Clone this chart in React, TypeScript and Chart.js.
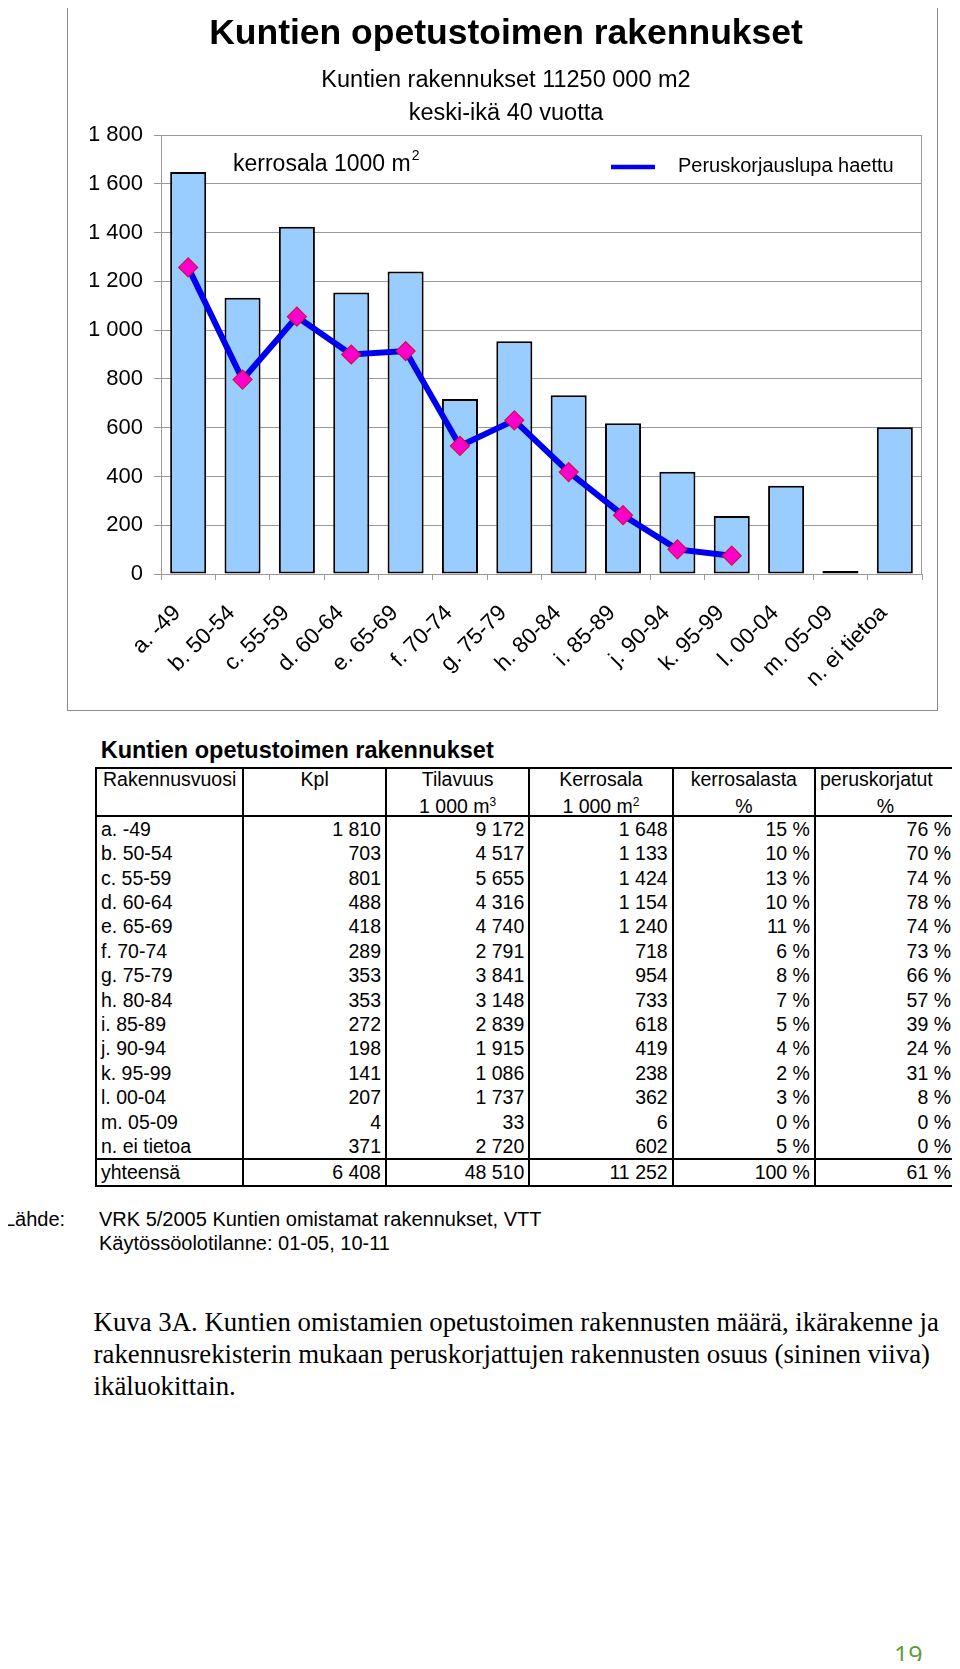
import React, { useEffect, useRef } from 'react';
import { Chart, registerables } from 'chart.js';

Chart.register(...registerables);

// ---------- chart data ----------
const categories = [
  'a. -49', 'b. 50-54', 'c. 55-59', 'd. 60-64', 'e. 65-69', 'f. 70-74', 'g. 75-79',
  'h. 80-84', 'i. 85-89', 'j. 90-94', 'k. 95-99', 'l. 00-04', 'm. 05-09', 'n. ei tietoa',
];
const kerrosala = [1648, 1133, 1424, 1154, 1240, 718, 954, 733, 618, 419, 238, 362, 6, 602];
const peruskorjauslupaHaettu = [1257, 797, 1055, 900, 914, 525, 630, 418, 241, 101, 75, null, null, null];
const yMin = 0;
const yMax = 1800;
const yStep = 200;

const chartTitle = 'Kuntien opetustoimen rakennukset';
const chartSubtitle = ['Kuntien rakennukset 11250 000 m2', 'keski-ikä 40 vuotta'];
const yUnitLabel = 'kerrosala 1000 m';
const yUnitSup = '2';
const barLabel = 'kerrosala 1000 m2';
const lineLabel = 'Peruskorjauslupa haettu';

// ---------- table data ----------
const tableTitle = 'Kuntien opetustoimen rakennukset';
const headerTop = ['Rakennusvuosi', 'Kpl', 'Tilavuus', 'Kerrosala', 'kerrosalasta', 'peruskorjatut'];
const headerUnit = ['', '', '1 000 m', '1 000 m', '%', '%'];
const headerUnitSup = ['', '', '3', '2', '', ''];
const kpl = [1810, 703, 801, 488, 418, 289, 353, 353, 272, 198, 141, 207, 4, 371];
const tilavuus = [9172, 4517, 5655, 4316, 4740, 2791, 3841, 3148, 2839, 1915, 1086, 1737, 33, 2720];
const kerrosalastaPct = [15, 10, 13, 10, 11, 6, 8, 7, 5, 4, 2, 3, 0, 5];
const peruskorjatutPct = [76, 70, 74, 78, 74, 73, 66, 57, 39, 24, 31, 8, 0, 0];
const totalLabel = 'yhteensä';
const totals = [6408, 48510, 11252, 100, 61];

const sourceLabel = 'Lähde:';
const sourceLines = ['VRK 5/2005 Kuntien omistamat rakennukset, VTT', 'Käytössöolotilanne: 01-05, 10-11'];
const captionLines = [
  'Kuva 3A. Kuntien omistamien opetustoimen rakennusten määrä, ikärakenne ja',
  'rakennusrekisterin mukaan peruskorjattujen rakennusten osuus (sininen viiva)',
  'ikäluokittain.',
];
const pageNumber = '19';

// ---------- styles ----------
const sans = '"Liberation Sans", Arial, Helvetica, sans-serif';
const serif = '"Liberation Serif", "Times New Roman", serif';
const gridColor = '#999999';
const barFill = '#99ccff';
const lineColor = '#0000f0';
const markerFill = '#ff00cc';
const markerBorder = '#d0104a';

const fmt = (n: number) => String(n).replace(/\B(?=(\d{3})+(?!\d))/g, '\u00a0');

const overlayPlugin = {
  id: 'overlayTexts',
  afterDraw(chart: any) {
    const { ctx, chartArea: a } = chart;
    ctx.save();
    // right edge of plot area
    ctx.strokeStyle = gridColor;
    ctx.lineWidth = 1;
    const rx = Math.round(a.right) - 0.5;
    ctx.beginPath();
    ctx.moveTo(rx, a.top);
    ctx.lineTo(rx, a.bottom);
    ctx.stroke();
    // unit label
    ctx.fillStyle = '#000';
    ctx.textAlign = 'left';
    ctx.textBaseline = 'alphabetic';
    ctx.font = `23px ${sans}`;
    const ux = a.left + 72;
    const uy = a.top + 36;
    ctx.fillText(yUnitLabel, ux, uy);
    const w = ctx.measureText(yUnitLabel).width;
    ctx.font = `14px ${sans}`;
    ctx.fillText(yUnitSup, ux + w + 1, uy - 11);
    // legend for line series
    const ds = chart.data.datasets[1];
    ctx.strokeStyle = ds.borderColor;
    ctx.lineWidth = 4.5;
    ctx.beginPath();
    ctx.moveTo(a.left + 450, a.top + 32);
    ctx.lineTo(a.left + 494, a.top + 32);
    ctx.stroke();
    ctx.font = `20px ${sans}`;
    ctx.fillText(ds.label, a.left + 517, a.top + 36.5);
    ctx.restore();
  },
};

export default function App() {
  const canvasRef = useRef<HTMLCanvasElement>(null);

  useEffect(() => {
    const chart = new Chart(canvasRef.current as HTMLCanvasElement, {
      type: 'bar',
      data: {
        labels: categories,
        datasets: [
          {
            type: 'bar',
            label: barLabel,
            data: kerrosala,
            backgroundColor: barFill,
            borderColor: '#000000',
            borderWidth: 2,
            borderSkipped: false,
            barPercentage: 0.663,
            categoryPercentage: 1,
            minBarLength: 3,
            order: 2,
          } as any,
          {
            type: 'line',
            label: lineLabel,
            data: peruskorjauslupaHaettu,
            borderColor: lineColor,
            borderWidth: 6,
            tension: 0,
            pointStyle: 'rectRot',
            pointRadius: 9.5,
            pointBackgroundColor: markerFill,
            pointBorderColor: markerBorder,
            pointBorderWidth: 1.2,
            order: 1,
          } as any,
        ],
      },
      options: {
        responsive: false,
        animation: false,
        devicePixelRatio: 1,
        layout: { padding: { left: 23, right: 23, top: 0, bottom: 0 } },
        plugins: {
          legend: { display: false },
          tooltip: { enabled: false },
          title: {
            display: true,
            text: chartTitle,
            color: '#000',
            font: { family: sans, size: 35.5, weight: 'bold', lineHeight: 1.2 },
            padding: { top: 10.8, bottom: 0 },
          },
          subtitle: {
            display: true,
            text: chartSubtitle,
            color: '#000',
            font: { family: sans, size: 23.5, weight: 'normal', lineHeight: 33 / 23.5 },
            padding: { top: 8.4, bottom: 5.2 },
          },
        },
        scales: {
          x: {
            ticks: {
              color: '#000',
              font: { family: sans, size: 22.5 },
              maxRotation: 45,
              minRotation: 45,
              autoSkip: false,
              padding: 20,
              labelOffset: -11,
            },
            grid: {
              display: true,
              drawOnChartArea: false,
              drawTicks: true,
              tickLength: 6,
              color: gridColor,
              offset: true,
            },
            border: { display: true, color: gridColor, width: 1 },
            afterFit: (s: any) => { s.height = 136; },
          },
          y: {
            min: yMin,
            max: yMax,
            ticks: {
              stepSize: yStep,
              color: '#000',
              font: { family: sans, size: 22 },
              padding: 11,
              callback: (v: any) => fmt(Number(v)),
            },
            grid: { color: gridColor, lineWidth: 1, tickLength: 7, drawTicks: true },
            border: { display: true, color: gridColor, width: 1 },
            afterFit: (s: any) => { s.width = 71; },
          },
        },
      } as any,
      plugins: [overlayPlugin],
    });
    return () => chart.destroy();
  }, []);

  const colWidths = [147.3, 142.7, 143.3, 143.4, 142.3, 141];
  const cellBase: React.CSSProperties = {
    borderLeft: '2px solid #000',
    borderRight: '2px solid #000',
    padding: '0 4px',
    whiteSpace: 'nowrap',
    overflow: 'visible',
  };
  const supStyle: React.CSSProperties = { fontSize: 12, lineHeight: 0, verticalAlign: 'super' };

  const dataRows = categories.map((c, i) => [
    c,
    fmt(kpl[i]),
    fmt(tilavuus[i]),
    fmt(kerrosala[i]),
    `${kerrosalastaPct[i]} %`,
    `${peruskorjatutPct[i]} %`,
  ]);
  const totalRow = [totalLabel, fmt(totals[0]), fmt(totals[1]), fmt(totals[2]), `${totals[3]} %`, `${totals[4]} %`];

  return (
    <div
      style={{
        position: 'relative',
        margin: -8,
        width: 960,
        height: 1669,
        background: '#fff',
        fontFamily: sans,
        color: '#000',
      }}
    >
      <canvas
        ref={canvasRef}
        width={878}
        height={708}
        style={{ position: 'absolute', left: 67, top: 2, width: 878, height: 708 }}
      />
      <div
        style={{
          position: 'absolute',
          left: 67,
          top: 1,
          width: 871,
          height: 710,
          border: '1px solid #8c8c8c',
          boxSizing: 'border-box',
          pointerEvents: 'none',
        }}
      />

      <div style={{ position: 'absolute', left: 100.7, top: 739.4, fontSize: 23.5, fontWeight: 'bold', lineHeight: 1, whiteSpace: 'nowrap' }}>
        {tableTitle}
      </div>

      <table
        style={{
          position: 'absolute',
          left: 95,
          top: 766.7,
          borderCollapse: 'collapse',
          tableLayout: 'fixed',
          width: 862,
          fontSize: 19.5,
          lineHeight: '24.4px',
        }}
      >
        <colgroup>
          {colWidths.map((w, i) => <col key={i} style={{ width: w }} />)}
        </colgroup>
        <tbody>
          <tr style={{ height: 21 }}>
            {headerTop.map((h, i) => (
              <td key={i} style={{ ...cellBase, borderTop: '2px solid #000', textAlign: i === 5 ? 'left' : 'center', lineHeight: '21px' }}>{h}</td>
            ))}
          </tr>
          <tr style={{ height: 25 }}>
            {headerUnit.map((h, i) => (
              <td key={i} style={{ ...cellBase, borderBottom: '2px solid #000', textAlign: 'center', lineHeight: '17px', paddingTop: 8, verticalAlign: 'top' }}>
                {h}
                {headerUnitSup[i] ? <sup style={supStyle}>{headerUnitSup[i]}</sup> : null}
              </td>
            ))}
          </tr>
          {dataRows.map((r, ri) => (
            <tr key={ri} style={{ height: 24.4 }}>
              {r.map((v, i) => (
                <td key={i} style={{ ...cellBase, textAlign: i === 0 ? 'left' : 'right' }}>{v}</td>
              ))}
            </tr>
          ))}
          <tr style={{ height: 24 }}>
            {totalRow.map((v, i) => (
              <td key={i} style={{ ...cellBase, borderTop: '2px solid #000', borderBottom: '2px solid #000', textAlign: i === 0 ? 'left' : 'right' }}>{v}</td>
            ))}
          </tr>
        </tbody>
      </table>

      <div style={{ position: 'absolute', left: 4, top: 1208.3, fontSize: 20, lineHeight: '23.5px', whiteSpace: 'nowrap' }}>{sourceLabel}</div>
      <div style={{ position: 'absolute', left: 99, top: 1208.3, fontSize: 20, lineHeight: '23.5px', whiteSpace: 'nowrap' }}>
        {sourceLines.map((l, i) => <div key={i}>{l}</div>)}
      </div>

      <div style={{ position: 'absolute', left: 93.6, top: 1306, fontFamily: serif, fontSize: 26.8, lineHeight: '32px', whiteSpace: 'nowrap' }}>
        {captionLines.map((l, i) => <div key={i}>{l}</div>)}
      </div>

      <div style={{ position: 'absolute', left: 894, top: 1641.8, fontFamily: '"Open Sans", sans-serif', fontSize: 25, lineHeight: 1, color: '#5e9a35' }}>
        {pageNumber}
      </div>
    </div>
  );
}
